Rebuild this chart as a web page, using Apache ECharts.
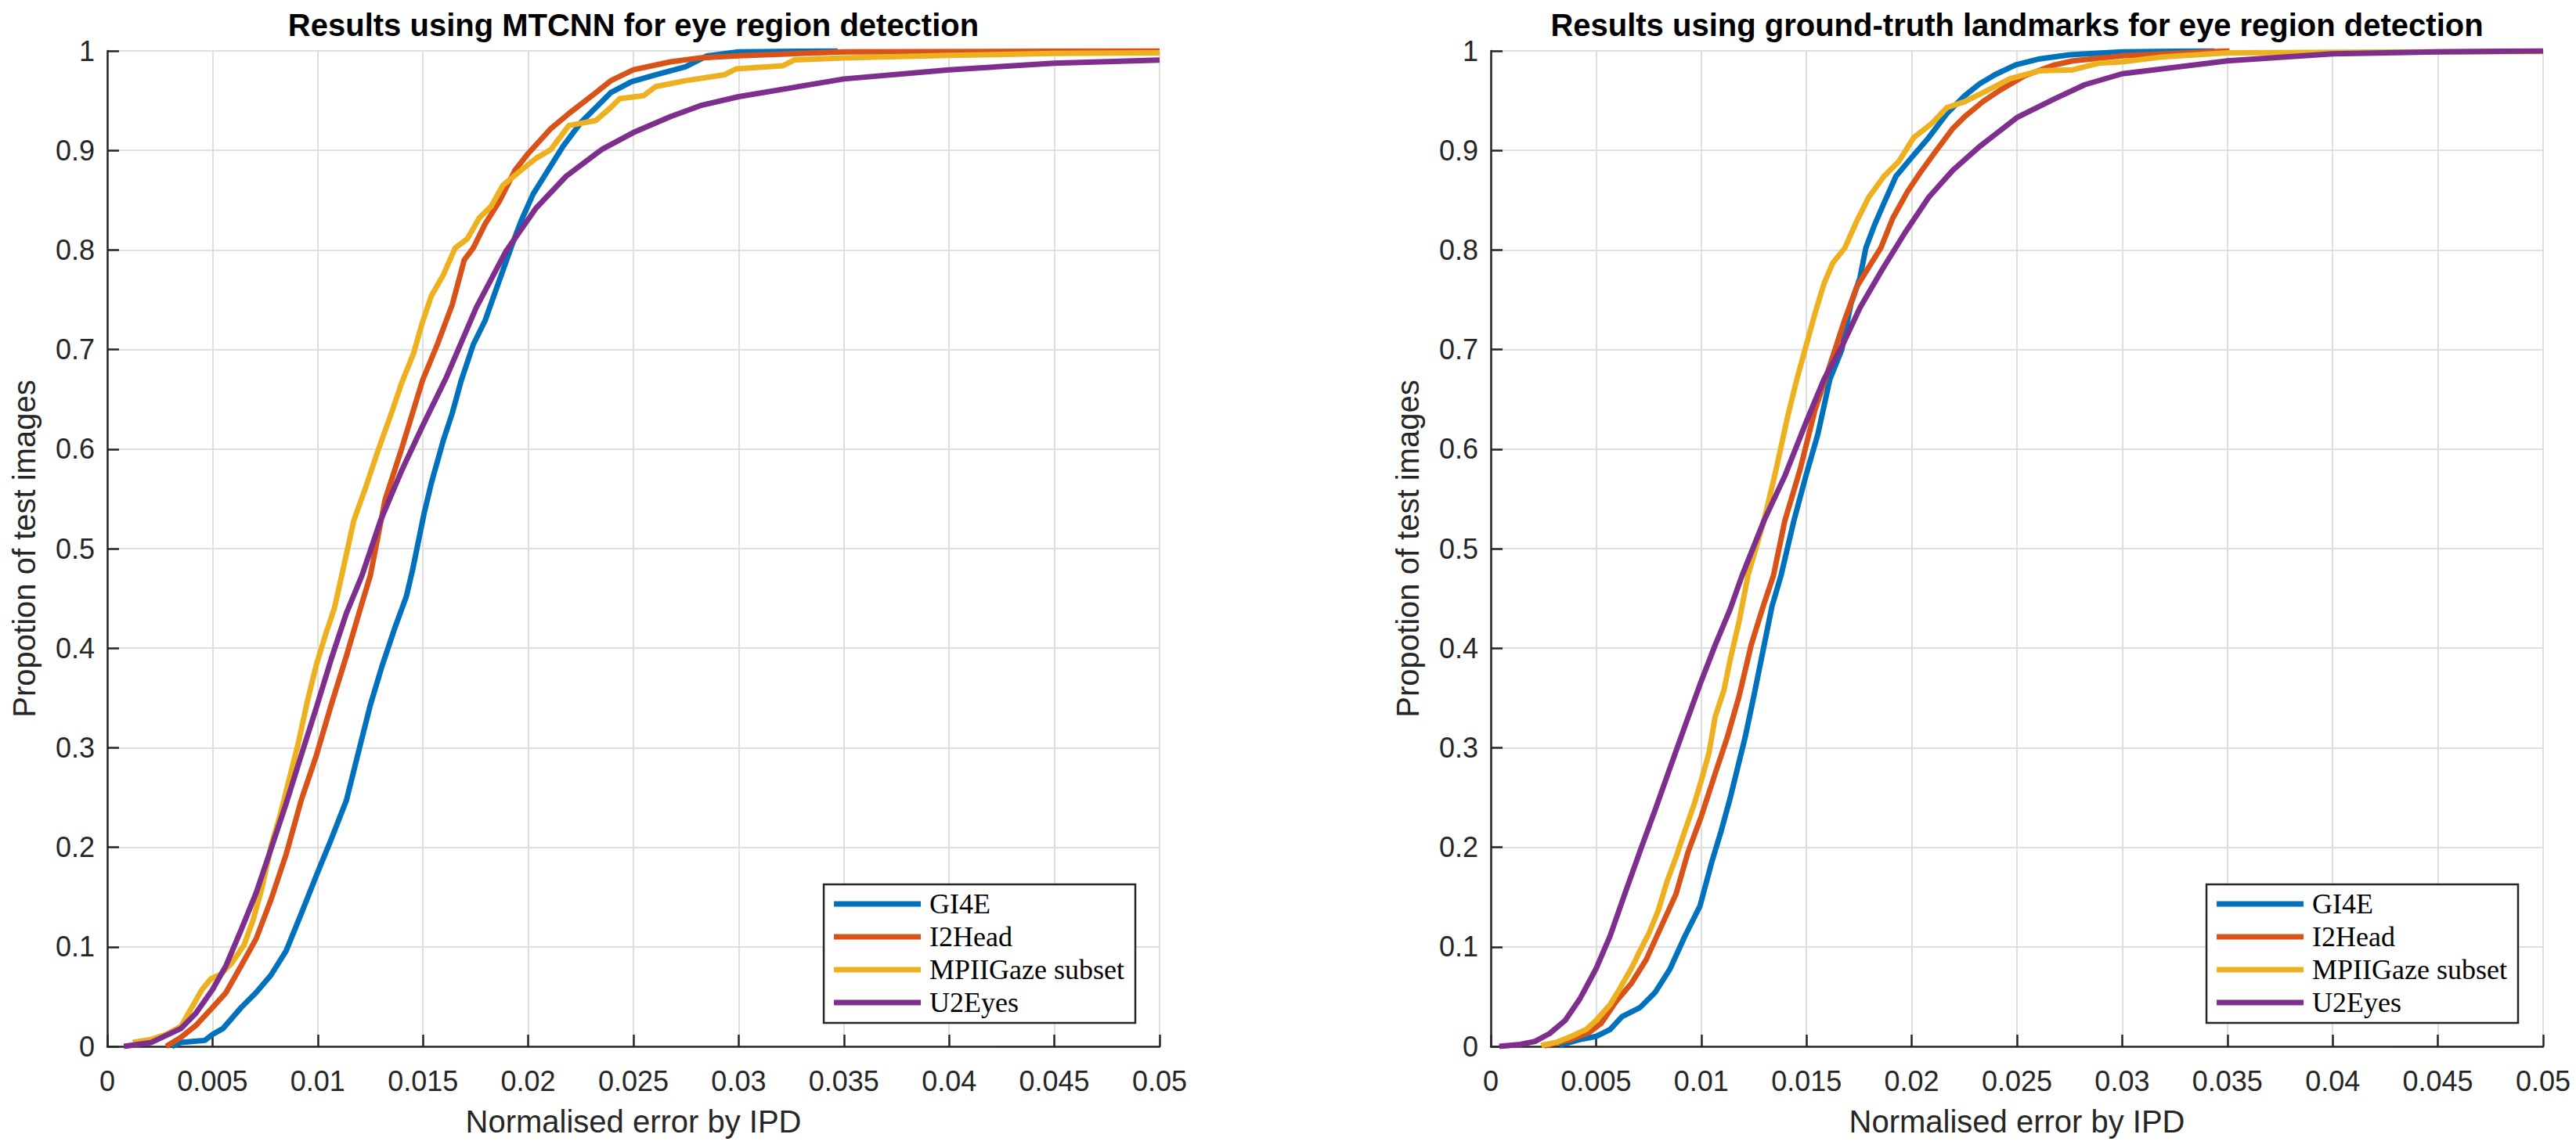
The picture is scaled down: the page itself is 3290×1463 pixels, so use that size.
<!DOCTYPE html>
<html>
<head>
<meta charset="utf-8">
<script src="https://cdn.jsdelivr.net/npm/echarts@6/dist/echarts.min.js"></script>
<style>
html,body{margin:0;padding:0;background:#fff;}
#chart{width:3290px;height:1463px;}
</style>
</head>
<body>
<div id="chart"></div>
<script>
// ---------- Data ----------
const seriesNames = ['GI4E', 'I2Head', 'MPIIGaze subset', 'U2Eyes'];
const seriesColors = ['#0072BD', '#D95319', '#EDB120', '#7E2F8E'];
const panelTitles = ['Results using MTCNN for eye region detection', 'Results using ground-truth landmarks for eye region detection'];
const xAxisName = 'Normalised error by IPD';
const yAxisName = 'Propotion of test images';
const xTickLabels = ['0', '0.005', '0.01', '0.015', '0.02', '0.025', '0.03', '0.035', '0.04', '0.045', '0.05'];
const yTickLabels = ['0', '0.1', '0.2', '0.3', '0.4', '0.5', '0.6', '0.7', '0.8', '0.9', '1'];

// Left panel: MTCNN
const mtcnnGI4E = [[0.00307,0],[0.0035,0.004],[0.00464,0.006],[0.005,0.012],[0.0055,0.018],[0.00636,0.039],[0.00707,0.054],[0.00779,0.072],[0.0085,0.096],[0.00921,0.133],[0.01,0.175],[0.01064,0.208],[0.01136,0.247],[0.01207,0.307],[0.0125,0.343],[0.01307,0.383],[0.01364,0.419],[0.01421,0.452],[0.0145,0.478],[0.01505,0.535],[0.0154,0.566],[0.01597,0.609],[0.01639,0.636],[0.01682,0.669],[0.01739,0.705],[0.01795,0.729],[0.01852,0.763],[0.01923,0.805],[0.01966,0.829],[0.02023,0.856],[0.02094,0.88],[0.02165,0.904],[0.0225,0.928],[0.02321,0.943],[0.02392,0.958],[0.02491,0.969],[0.02605,0.976],[0.02747,0.984],[0.0285,0.995],[0.03,0.999],[0.0347,1.0]];
const mtcnnI2Head = [[0.0028,0],[0.0035,0.009],[0.00421,0.021],[0.005,0.039],[0.00564,0.054],[0.00636,0.081],[0.00707,0.108],[0.00779,0.148],[0.0085,0.193],[0.00921,0.247],[0.00993,0.292],[0.01064,0.343],[0.01136,0.392],[0.01207,0.443],[0.0125,0.473],[0.0132,0.549],[0.01398,0.6],[0.01498,0.669],[0.01568,0.705],[0.01639,0.745],[0.01696,0.79],[0.01739,0.802],[0.01795,0.826],[0.01866,0.85],[0.01937,0.88],[0.02,0.897],[0.02108,0.922],[0.02193,0.937],[0.02321,0.958],[0.02392,0.97],[0.025,0.981],[0.02676,0.989],[0.02818,0.993],[0.03,0.995],[0.035,0.999],[0.05,1.0]];
const mtcnnMPII = [[0.00121,0.004],[0.00207,0.007],[0.00279,0.012],[0.0035,0.02],[0.00393,0.036],[0.0045,0.057],[0.00493,0.068],[0.00536,0.072],[0.00593,0.084],[0.0065,0.102],[0.00693,0.127],[0.00736,0.16],[0.00779,0.202],[0.00821,0.232],[0.00864,0.268],[0.00907,0.304],[0.0095,0.346],[0.00993,0.383],[0.01036,0.413],[0.01079,0.44],[0.01114,0.473],[0.01171,0.528],[0.01227,0.561],[0.01284,0.597],[0.01355,0.639],[0.01398,0.666],[0.01455,0.696],[0.01497,0.727],[0.0154,0.754],[0.01597,0.775],[0.01653,0.802],[0.0171,0.811],[0.01767,0.832],[0.01824,0.844],[0.0188,0.865],[0.01966,0.88],[0.02037,0.892],[0.02108,0.901],[0.02193,0.925],[0.02321,0.93],[0.02392,0.943],[0.02435,0.952],[0.02548,0.955],[0.02605,0.964],[0.02747,0.97],[0.02932,0.976],[0.02989,0.982],[0.03209,0.985],[0.03266,0.991],[0.035,0.993],[0.04,0.9955],[0.045,0.9974],[0.05,0.998]];
const mtcnnU2Eyes = [[0.00079,0],[0.0021,0.004],[0.0035,0.018],[0.0042,0.033],[0.005,0.057],[0.00564,0.081],[0.00636,0.117],[0.00707,0.154],[0.00779,0.199],[0.0085,0.244],[0.00921,0.292],[0.00993,0.34],[0.01064,0.389],[0.01136,0.435],[0.0121,0.473],[0.01298,0.528],[0.01398,0.578],[0.015,0.624],[0.01611,0.672],[0.01753,0.742],[0.01895,0.799],[0.02037,0.842],[0.0218,0.874],[0.0235,0.901],[0.025,0.918],[0.02676,0.934],[0.02818,0.945],[0.03,0.954],[0.035,0.9718],[0.04,0.981],[0.045,0.9876],[0.05,0.9908]];

// Right panel: ground-truth landmarks
const gtGI4E = [[0.00325,0.001],[0.00425,0.007],[0.005,0.01],[0.00567,0.017],[0.00624,0.03],[0.00709,0.039],[0.0078,0.054],[0.00852,0.078],[0.00923,0.111],[0.00994,0.141],[0.01051,0.186],[0.01094,0.216],[0.01137,0.249],[0.0118,0.286],[0.01208,0.31],[0.0125,0.352],[0.01293,0.397],[0.01336,0.442],[0.01379,0.473],[0.0144,0.528],[0.01497,0.573],[0.01554,0.615],[0.01611,0.67],[0.01668,0.7],[0.0171,0.745],[0.01754,0.772],[0.01782,0.802],[0.01825,0.826],[0.01868,0.847],[0.01925,0.874],[0.01996,0.892],[0.02081,0.913],[0.02167,0.937],[0.02252,0.955],[0.02323,0.967],[0.02395,0.976],[0.02494,0.986],[0.02608,0.992],[0.0275,0.996],[0.03,0.999],[0.0344,1.0]];
const gtI2Head = [[0.00254,0.0006],[0.00382,0.007],[0.00467,0.014],[0.00524,0.023],[0.00595,0.045],[0.00667,0.063],[0.00738,0.087],[0.00809,0.12],[0.0088,0.153],[0.00937,0.195],[0.01,0.231],[0.01066,0.274],[0.01123,0.31],[0.0118,0.352],[0.01237,0.403],[0.01294,0.442],[0.01343,0.473],[0.01397,0.528],[0.01469,0.579],[0.0154,0.639],[0.01611,0.684],[0.01682,0.73],[0.01739,0.763],[0.01782,0.778],[0.01853,0.802],[0.0191,0.832],[0.01981,0.859],[0.02038,0.877],[0.0211,0.898],[0.02195,0.922],[0.02252,0.934],[0.02338,0.949],[0.02423,0.961],[0.02537,0.975],[0.02679,0.986],[0.02766,0.99],[0.03,0.995],[0.0351,1.0]];
const gtMPII = [[0.0024,0.001],[0.0031,0.004],[0.00382,0.01],[0.00453,0.017],[0.005,0.026],[0.00567,0.042],[0.0061,0.057],[0.00667,0.078],[0.00709,0.096],[0.00752,0.114],[0.00795,0.136],[0.00838,0.166],[0.0088,0.19],[0.00923,0.217],[0.00966,0.243],[0.01,0.267],[0.01037,0.295],[0.01066,0.331],[0.01108,0.358],[0.01137,0.388],[0.0118,0.427],[0.01222,0.473],[0.01298,0.528],[0.01355,0.579],[0.01412,0.634],[0.01454,0.67],[0.01497,0.703],[0.0154,0.736],[0.01583,0.766],[0.01625,0.787],[0.01682,0.802],[0.01739,0.829],[0.01796,0.853],[0.01868,0.874],[0.01939,0.889],[0.0201,0.913],[0.02095,0.927],[0.02167,0.943],[0.02252,0.949],[0.02366,0.961],[0.02466,0.972],[0.02608,0.98],[0.02766,0.981],[0.02886,0.9876],[0.03,0.989],[0.03194,0.994],[0.035,0.998],[0.05,0.9995]];
const gtU2Eyes = [[0.0004,0],[0.0014,0.002],[0.0021,0.005],[0.0028,0.013],[0.00353,0.026],[0.00424,0.048],[0.005,0.078],[0.00567,0.111],[0.00638,0.154],[0.00709,0.196],[0.0078,0.237],[0.00852,0.28],[0.00923,0.322],[0.01,0.367],[0.01066,0.403],[0.01137,0.439],[0.01194,0.473],[0.01298,0.528],[0.01397,0.573],[0.015,0.628],[0.01583,0.67],[0.01668,0.703],[0.01754,0.742],[0.01853,0.778],[0.01967,0.817],[0.02081,0.853],[0.02195,0.88],[0.02323,0.904],[0.025,0.933],[0.0268,0.952],[0.02822,0.966],[0.03,0.977],[0.035,0.99],[0.04,0.997],[0.045,0.999],[0.05,1.0]];

const panelData = [
  [mtcnnGI4E, mtcnnI2Head, mtcnnMPII, mtcnnU2Eyes],
  [gtGI4E, gtI2Head, gtMPII, gtU2Eyes]
];

// ---------- Chart ----------
const chart = echarts.init(document.getElementById('chart'), null, {renderer: 'svg'});
const AX = '#262626';
const sansFont = 'Liberation Sans, Arial, Helvetica, sans-serif';
const serifFont = 'Liberation Serif, Times New Roman, serif';

const grids = [
  {left: 137, right: 1809, top: 65, bottom: 126},
  {left: 1904, right: 42, top: 65, bottom: 126}
];
const titleCenters = [809, 2576];
const legendRights = [1840, 74];

function makeX(i) {
  return {
    type: 'value', gridIndex: i, min: 0, max: 0.05, interval: 0.005,
    name: xAxisName, nameLocation: 'middle', nameGap: 76,
    nameTextStyle: {fontFamily: sansFont, fontSize: 40, color: AX},
    axisLine: {show: true, onZero: false, lineStyle: {color: AX, width: 2.5}},
    axisTick: {show: true, inside: true, length: 15, lineStyle: {color: AX, width: 2.5}},
    axisLabel: {margin: 26, fontFamily: sansFont, fontSize: 36, color: AX,
      formatter: v => xTickLabels[Math.round(v / 0.005)]},
    splitLine: {show: true, lineStyle: {color: '#dfdfdf', width: 2}}
  };
}
function makeY(i) {
  return {
    type: 'value', gridIndex: i, min: 0, max: 1, interval: 0.1,
    name: yAxisName, nameLocation: 'middle', nameGap: 86,
    nameTextStyle: {fontFamily: sansFont, fontSize: 40, color: AX},
    axisLine: {show: true, onZero: false, lineStyle: {color: AX, width: 2.5}},
    axisTick: {show: true, inside: true, length: 15, lineStyle: {color: AX, width: 2.5}},
    axisLabel: {margin: 16, fontFamily: sansFont, fontSize: 36, color: AX,
      formatter: v => yTickLabels[Math.round(v / 0.1)]},
    splitLine: {show: true, lineStyle: {color: '#dfdfdf', width: 2}}
  };
}

const series = [];
panelData.forEach((panel, p) => {
  panel.forEach((d, k) => {
    series.push({
      type: 'line', name: seriesNames[k], xAxisIndex: p, yAxisIndex: p,
      data: d, showSymbol: false, symbol: 'none', clip: true,
      color: seriesColors[k],
      lineStyle: {color: seriesColors[k], width: 7, join: 'round'},
      z: 3 + k
    });
  });
});

const option = {
  backgroundColor: '#ffffff',
  animation: false,
  title: panelTitles.map((t, i) => ({
    text: t, left: titleCenters[i], top: 12, textAlign: 'center', padding: 0,
    textStyle: {fontFamily: sansFont, fontWeight: 'bold', fontSize: 40, color: '#000'}
  })),
  legend: legendRights.map(r => ({
    data: seriesNames, orient: 'vertical', right: r, bottom: 156,
    padding: [7, 14, 8, 13], itemWidth: 111, itemHeight: 7, itemGap: 6,
    icon: 'rect', selectedMode: false,
    backgroundColor: '#ffffff', borderColor: AX, borderWidth: 2.5, borderRadius: 0,
    textStyle: {fontFamily: serifFont, fontSize: 36, color: '#000', padding: [0, 0, 0, 6]}
  })),
  grid: grids,
  xAxis: [makeX(0), makeX(1)],
  yAxis: [makeY(0), makeY(1)],
  series: series
};
chart.setOption(option);
</script>
</body>
</html>
